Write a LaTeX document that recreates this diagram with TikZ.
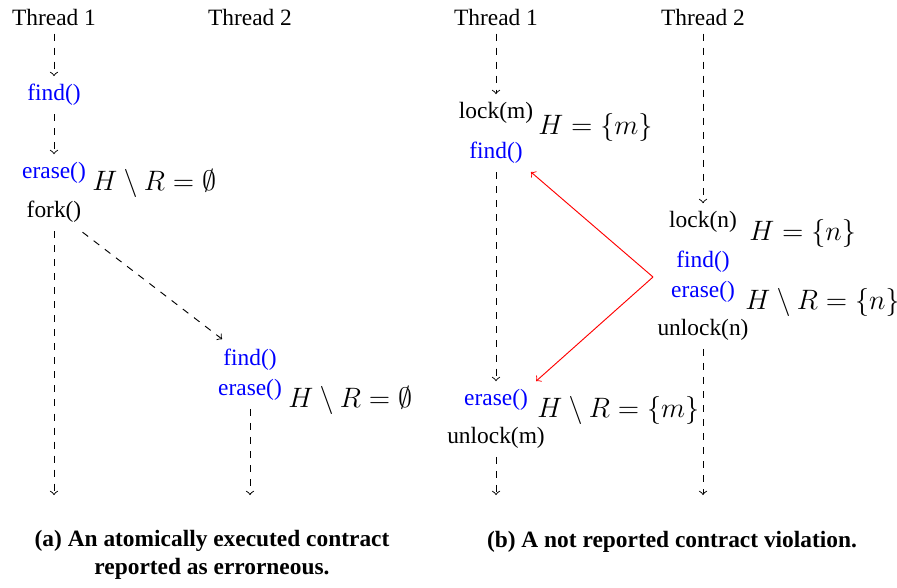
\documentclass[tikz,border=0pt]{standalone}
\usepackage{fontspec}
\setmainfont{Liberation Serif}
\begin{document}
\begin{tikzpicture}[x=0.4274pt,y=-0.4274pt,
  fn/.style={text=blue},
  mth/.style={font=\large, anchor=west, inner sep=0pt},
  flow/.style={dashed,->},
  viol/.style={red,->}]
\useasboundingbox (0,0) rectangle (897,587);
% ---------- (a) ----------
\node (a1) at (54,17) {Thread 1};
\node (a2) at (250,17) {Thread 2};
\node[fn] (afind1) at (54,95) {find()};
\node[fn] (aerase1) at (54,173) {erase()};
\node[mth] (am1) at (92,183) {$H \setminus R = \emptyset$};
\node (afork) at (54,212) {fork()};
\node[fn] (afind2) at (250,360) {find()};
\node[fn] (aerase2) at (250,390) {erase()};
\node[mth] (am2) at (288,400) {$H \setminus R = \emptyset$};
\coordinate (aend1) at (54,495);
\coordinate (aend2) at (250,495);
\draw[flow] (a1) -- (afind1);
\draw[flow] (afind1) -- (aerase1);
\draw[flow] (afork) -- (aend1);
\draw[flow] ([xshift=-3pt,yshift=-0.5pt]afork.south east) -- ([xshift=3pt,yshift=0.8pt]afind2.north west);
\draw[flow] (aerase2) -- (aend2);
% ---------- (b) ----------
\node (b1) at (496,17) {Thread 1};
\node (b2) at (703,17) {Thread 2};
\node (block) at (496,113) {lock(m)};
\node[mth] (bm1) at (538,127) {$H = \{m\}$};
\node[fn] (bfind1) at (496,153) {find()};
\node[fn] (berase1) at (496,400) {erase()};
\node[mth] (bm2) at (537,410) {$H \setminus R = \{m\}$};
\node (bunlock) at (496,438) {unlock(m)};
\coordinate (bend1) at (496,495);
\node (clock) at (703,222) {lock(n)};
\node[mth] (cm1) at (749,233) {$H = \{n\}$};
\node[fn] (cfind) at (703,262) {find()};
\node[fn] (cerase) at (703,292) {erase()};
\node[mth] (cm2) at (745,302) {$H \setminus R = \{n\}$};
\node (cunlock) at (703,330) {unlock(n)};
\coordinate (cend) at (703,495);
\draw[flow] (b1) -- (block);
\draw[flow] (bfind1) -- (berase1);
\draw[flow] (bunlock) -- (bend1);
\draw[flow] (b2) -- (clock);
\draw[flow] (cunlock) -- (cend);
\coordinate (v) at (653,277);
\draw[viol] (v) -- (bfind1.south east);
\draw[viol] (v) -- (berase1.north east);
% ---------- captions ----------
\node[font=\bfseries, align=center] (capa) at (212,555) {(a) An atomically executed contract\\reported as errorneous.};
\node[font=\bfseries] (capb) at (672,542) {(b) A not reported contract violation.};
\end{tikzpicture}
\end{document}
